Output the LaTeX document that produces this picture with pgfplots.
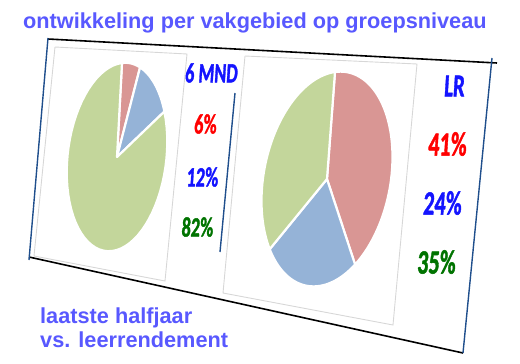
\documentclass[border=0pt]{standalone}
\usepackage{pgfplots}
\pgfplotsset{compat=1.18}
\usepackage{fontspec}
\usepackage{graphicx}
\setmainfont{Liberation Sans}
\newfontfamily\calib[BoldFeatures={FakeBold=1.6, FakeSlant=0.1}]{Carlito}
\definecolor{titleblue}{RGB}{88,88,255}
\definecolor{piered}{RGB}{217,150,148}
\definecolor{pieblue}{RGB}{149,179,215}
\definecolor{piegreen}{RGB}{195,214,155}
\definecolor{labred}{RGB}{255,0,0}
\definecolor{labblue}{RGB}{20,20,255}
\definecolor{labgreen}{RGB}{0,115,0}
\definecolor{frameblue}{RGB}{31,78,140}
\definecolor{panelgray}{RGB}{215,215,215}
% slice: colour, start %, end %, centre x, centre y, u_x, u_y, v_x, v_y
\newcommand{\slice}[9]{%
  \addplot[fill=#1, draw=white, line width=2.2pt, line join=round,
    domain=3.6*(#2):3.6*(#3), samples=60]
  ({#4+(#6)*sin(x)+(#8)*cos(x)},{#5+(#7)*sin(x)+(#9)*cos(x)}) -- (axis cs:#4,#5) -- cycle;}
\newcommand{\lab}[1]{\scalebox{0.65}[1]{#1}}
\begin{document}
\begin{tikzpicture}
\begin{axis}[hide axis, scale only axis, width=520bp, height=364bp,
  xmin=0, xmax=520, ymin=0, ymax=364, y dir=reverse, clip=false,
  anchor=south west, at={(0,0)}]
% panels
\addplot[panelgray, line width=0.9pt] coordinates {(55,47) (187,54) (165,281) (34,256) (55,47)};
\addplot[panelgray, line width=0.9pt] coordinates {(245,56) (417,64) (393,325) (223,293) (245,56)};
% 6 MND pie: 6, 12, 82
\slice{piered}{0}{6}{117}{157}{50}{-6}{5}{-94}
\slice{pieblue}{6}{6+12}{117}{157}{50}{-6}{5}{-94}
\slice{piegreen}{6+12}{6+12+82}{117}{157}{50}{-6}{5}{-94}
% LR pie: 41, 24, 35
\slice{piered}{0}{41}{327}{179}{65}{-9}{8}{-107}
\slice{pieblue}{41}{41+24}{327}{179}{65}{-9}{8}{-107}
\slice{piegreen}{41+24}{41+24+35}{327}{179}{65}{-9}{8}{-107}
% frame
\addplot[black, line width=1.6pt] coordinates {(48,39) (497,63)};
\addplot[black, line width=1.6pt] coordinates {(29,257) (463,353)};
\addplot[frameblue, line width=1.4pt] coordinates {(48,38) (29,260)};
\addplot[frameblue, line width=1.4pt] coordinates {(492,58) (463,353)};
\addplot[frameblue, line width=1.4pt] coordinates {(235,93) (220,252)};
% labels
\node[text=labblue, font=\calib\bfseries\fontsize{28}{30}\selectfont] at (axis cs:211,73) {\lab{6 MND}};
\node[text=labred, font=\calib\bfseries\fontsize{28}{30}\selectfont] at (axis cs:205,124) {\lab{6\%}};
\node[text=labblue, font=\calib\bfseries\fontsize{28}{30}\selectfont] at (axis cs:202,177) {\lab{12\%}};
\node[text=labgreen, font=\calib\bfseries\fontsize{28}{30}\selectfont] at (axis cs:197,227) {\lab{82\%}};
\node[text=labblue, font=\calib\bfseries\fontsize{32}{34}\selectfont] at (axis cs:454,86) {\lab{LR}};
\node[text=labred, font=\calib\bfseries\fontsize{34}{36}\selectfont] at (axis cs:447,144) {\lab{41\%}};
\node[text=labblue, font=\calib\bfseries\fontsize{34}{36}\selectfont] at (axis cs:442,203) {\lab{24\%}};
\node[text=labgreen, font=\calib\bfseries\fontsize{34}{36}\selectfont] at (axis cs:436,262) {\lab{35\%}};
% titles
\node[anchor=base west, inner sep=0pt, text=titleblue, font=\bfseries\fontsize{21.8}{24}\selectfont] at (axis cs:23,29) {ontwikkeling per vakgebied op groepsniveau};
\node[anchor=base west, inner sep=0pt, text=titleblue, font=\bfseries\fontsize{21.8}{24}\selectfont] at (axis cs:40,323) {laatste halfjaar};
\node[anchor=base west, inner sep=0pt, text=titleblue, font=\bfseries\fontsize{21.8}{24}\selectfont] at (axis cs:40,347) {vs. leerrendement};
\end{axis}
\pgfresetboundingbox
\useasboundingbox (0,0) rectangle (520bp,364bp);
\end{tikzpicture}
\end{document}
